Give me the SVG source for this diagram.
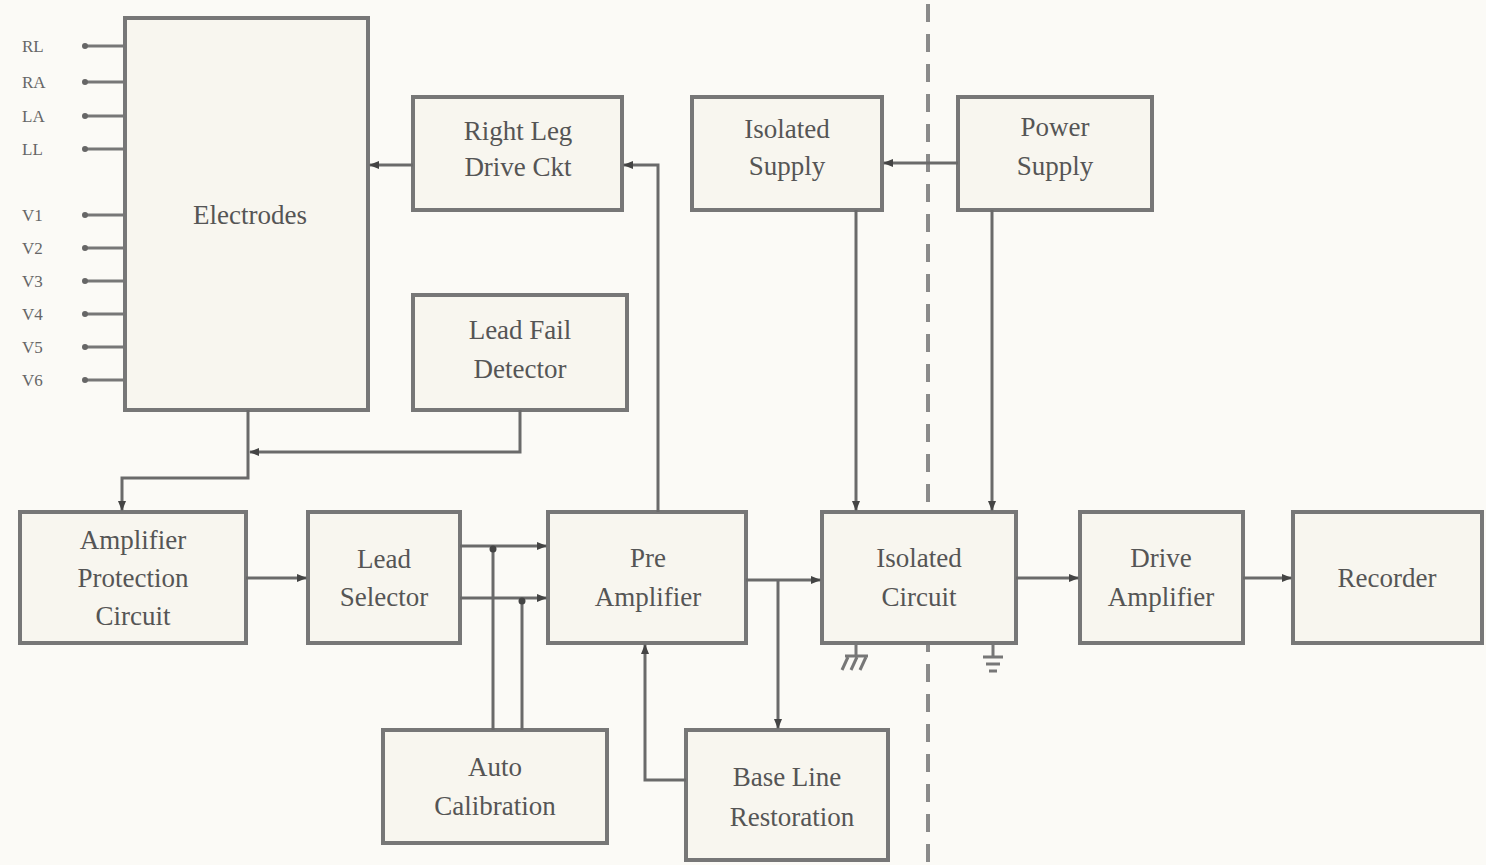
<svg xmlns="http://www.w3.org/2000/svg" width="1486" height="865" viewBox="0 0 1486 865">
<defs>
<marker id="arr" markerWidth="10" markerHeight="8" refX="9" refY="4" orient="auto" markerUnits="userSpaceOnUse">
<path d="M0,0 L10,4 L0,8 Z" fill="#444"/>
</marker>
<style>
.box{fill:#f8f6ef;stroke:#777;stroke-width:4}
.t{font-family:"Liberation Serif",serif;font-size:27px;fill:#555;text-anchor:middle}
.lbl{font-family:"Liberation Serif",serif;font-size:17px;fill:#666}
.w{fill:none;stroke:#6a6a6a;stroke-width:3}
.a{fill:none;stroke:#6a6a6a;stroke-width:3;marker-end:url(#arr)}
.lead{stroke:#777;stroke-width:3}
</style>
</defs>
<rect width="1486" height="865" fill="#fbfaf6"/>

<g id="isolation-barrier">
<line x1="928" y1="4" x2="928" y2="865" stroke="#8a8a8a" stroke-width="4" stroke-dasharray="18,12"/>
</g>

<g id="electrodes">
<rect class="box" x="125" y="18" width="243" height="392"/>
<text class="t" x="250" y="224">Electrodes</text>
<g class="leads">
<line class="lead" x1="85" y1="46" x2="125" y2="46"/>
<line class="lead" x1="85" y1="82" x2="125" y2="82"/>
<line class="lead" x1="85" y1="116" x2="125" y2="116"/>
<line class="lead" x1="85" y1="149" x2="125" y2="149"/>
<line class="lead" x1="85" y1="215" x2="125" y2="215"/>
<line class="lead" x1="85" y1="248" x2="125" y2="248"/>
<line class="lead" x1="85" y1="281" x2="125" y2="281"/>
<line class="lead" x1="85" y1="314" x2="125" y2="314"/>
<line class="lead" x1="85" y1="347" x2="125" y2="347"/>
<line class="lead" x1="85" y1="380" x2="125" y2="380"/>
<circle cx="85" cy="46" r="3" fill="#666"/>
<circle cx="85" cy="82" r="3" fill="#666"/>
<circle cx="85" cy="116" r="3" fill="#666"/>
<circle cx="85" cy="149" r="3" fill="#666"/>
<circle cx="85" cy="215" r="3" fill="#666"/>
<circle cx="85" cy="248" r="3" fill="#666"/>
<circle cx="85" cy="281" r="3" fill="#666"/>
<circle cx="85" cy="314" r="3" fill="#666"/>
<circle cx="85" cy="347" r="3" fill="#666"/>
<circle cx="85" cy="380" r="3" fill="#666"/>
</g>
<text class="lbl" x="22" y="52">RL</text>
<text class="lbl" x="22" y="88">RA</text>
<text class="lbl" x="22" y="122">LA</text>
<text class="lbl" x="22" y="155">LL</text>
<text class="lbl" x="22" y="221">V1</text>
<text class="lbl" x="22" y="254">V2</text>
<text class="lbl" x="22" y="287">V3</text>
<text class="lbl" x="22" y="320">V4</text>
<text class="lbl" x="22" y="353">V5</text>
<text class="lbl" x="22" y="386">V6</text>
</g>

<g id="right-leg">
<rect class="box" x="413" y="97" width="209" height="113"/>
<text class="t" x="518" y="140">Right Leg</text>
<text class="t" x="518" y="176">Drive Ckt</text>
</g>

<g id="lead-fail">
<rect class="box" x="413" y="295" width="214" height="115"/>
<text class="t" x="520" y="339">Lead Fail</text>
<text class="t" x="520" y="378">Detector</text>
</g>

<g id="isolated-supply">
<rect class="box" x="692" y="97" width="190" height="113"/>
<text class="t" x="787" y="138">Isolated</text>
<text class="t" x="787" y="175">Supply</text>
</g>

<g id="power-supply">
<rect class="box" x="958" y="97" width="194" height="113"/>
<text class="t" x="1055" y="136">Power</text>
<text class="t" x="1055" y="175">Supply</text>
</g>

<g id="amp-protection">
<rect class="box" x="20" y="512" width="226" height="131"/>
<text class="t" x="133" y="549">Amplifier</text>
<text class="t" x="133" y="587">Protection</text>
<text class="t" x="133" y="625">Circuit</text>
</g>

<g id="lead-selector">
<rect class="box" x="308" y="512" width="152" height="131"/>
<text class="t" x="384" y="568">Lead</text>
<text class="t" x="384" y="606">Selector</text>
</g>

<g id="pre-amplifier">
<rect class="box" x="548" y="512" width="198" height="131"/>
<text class="t" x="648" y="567">Pre</text>
<text class="t" x="648" y="606">Amplifier</text>
</g>

<g id="isolated-circuit">
<rect class="box" x="822" y="512" width="194" height="131"/>
<text class="t" x="919" y="567">Isolated</text>
<text class="t" x="919" y="606">Circuit</text>
</g>

<g id="drive-amplifier">
<rect class="box" x="1080" y="512" width="163" height="131"/>
<text class="t" x="1161" y="567">Drive</text>
<text class="t" x="1161" y="606">Amplifier</text>
</g>

<g id="recorder">
<rect class="box" x="1293" y="512" width="189" height="131"/>
<text class="t" x="1387" y="587">Recorder</text>
</g>

<g id="auto-calibration">
<rect class="box" x="383" y="730" width="224" height="113"/>
<text class="t" x="495" y="776">Auto</text>
<text class="t" x="495" y="815">Calibration</text>
</g>

<g id="baseline-restoration">
<rect class="box" x="686" y="730" width="202" height="130"/>
<text class="t" x="787" y="786">Base Line</text>
<text class="t" x="792" y="826">Restoration</text>
</g>

<g id="grounds" stroke="#777" stroke-width="3" fill="none">
<line x1="856" y1="643" x2="856" y2="655"/>
<line x1="845" y1="656" x2="868" y2="656"/>
<line x1="848" y1="657" x2="842" y2="670"/>
<line x1="857" y1="657" x2="851" y2="670"/>
<line x1="866" y1="657" x2="860" y2="670"/>
<line x1="993" y1="643" x2="993" y2="656"/>
<line x1="983" y1="657" x2="1003" y2="657"/>
<line x1="986" y1="664" x2="1000" y2="664"/>
<line x1="989" y1="671" x2="997" y2="671"/>
</g>

<g id="connectors">
<path class="a" d="M413,165 L370,165"/>
<path class="a" d="M658,512 L658,165 L624,165"/>
<path class="a" d="M520,410 L520,452 L250,452"/>
<path class="a" d="M248,410 L248,478 L122,478 L122,510"/>
<path class="a" d="M246,578 L306,578"/>
<path class="a" d="M460,546 L546,546"/>
<path class="a" d="M460,598 L546,598"/>
<path class="w" d="M493,546 L493,730"/>
<path class="w" d="M522,598 L522,730"/>
<circle cx="493" cy="549" r="3.5" fill="#444"/>
<circle cx="522" cy="601" r="3.5" fill="#444"/>
<path class="a" d="M746,580 L820,580"/>
<path class="a" d="M778,580 L778,728"/>
<path class="a" d="M686,780 L645,780 L645,645"/>
<path class="a" d="M958,163 L884,163"/>
<path class="a" d="M856,210 L856,510"/>
<path class="a" d="M992,210 L992,510"/>
<path class="a" d="M1016,578 L1078,578"/>
<path class="a" d="M1243,578 L1291,578"/>
</g>
</svg>
